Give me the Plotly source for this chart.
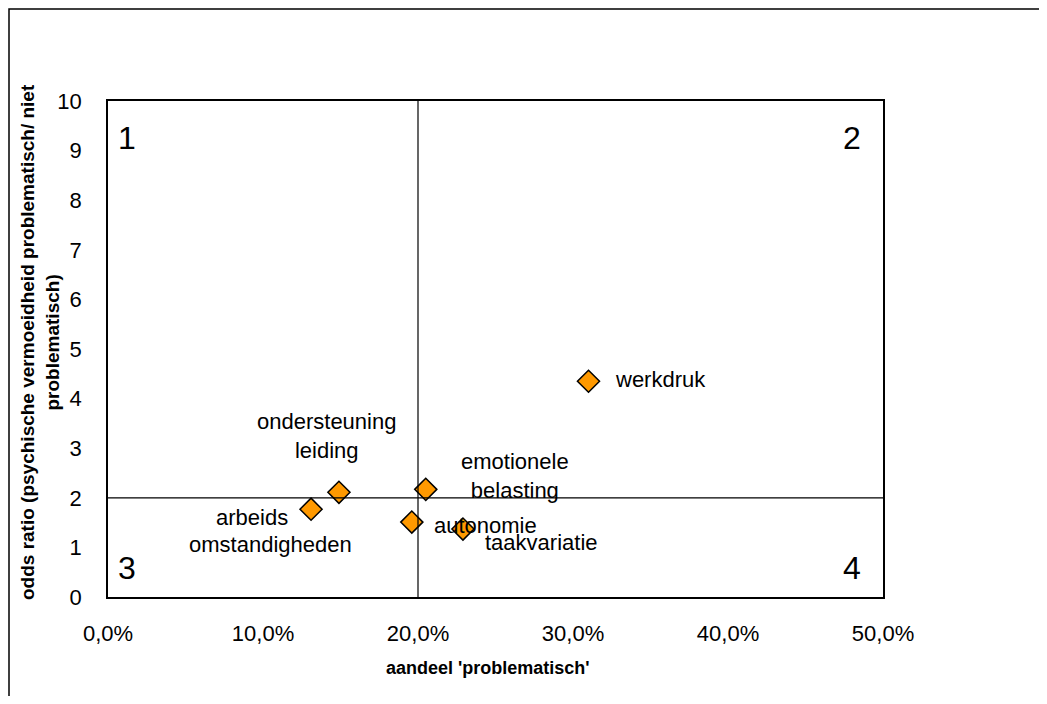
import plotly.graph_objects as go

# ---- data ----
names = ["werkdruk", "ondersteuning leiding", "arbeids omstandigheden",
         "emotionele belasting", "autonomie", "taakvariatie"]
share_problematic = [0.310, 0.149, 0.131, 0.205, 0.196, 0.229]
odds_ratio = [4.35, 2.11, 1.77, 2.17, 1.51, 1.37]
x_ticks = [0.0, 0.1, 0.2, 0.3, 0.4, 0.5]
y_ticks = list(range(0, 11))
x_split = 0.20
y_split = 2.0
quadrants = ["1", "2", "3", "4"]

# page body has an 8px margin, so work in page pixels and shift
OFF = 8
W, H = 1047 - 2 * OFF, 704 - 2 * OFF
L, T = 108 - OFF, 101 - OFF
R = W - (883 - OFF)
B = H - (597 - OFF)
PW, PH = W - L - R, H - T - B

def px(xp):
    return (xp - OFF - L) / PW

def py(yp):
    return (H - B - (yp - OFF)) / PH

FONT = "Liberation Sans, Arial, sans-serif"
fig = go.Figure()

fig.add_trace(go.Scatter(
    x=share_problematic, y=odds_ratio, mode="markers",
    marker=dict(symbol="diamond", size=17, color="#FF9900",
                line=dict(color="black", width=1.5)),
    hoverinfo="text", hovertext=names, showlegend=False, cliponaxis=False))

# quadrant split lines
fig.add_shape(type="line", xref="x", yref="y", x0=x_split, x1=x_split,
              y0=0, y1=10, line=dict(color="black", width=1.2))
fig.add_shape(type="line", xref="x", yref="y", x0=0, x1=0.5,
              y0=y_split, y1=y_split, line=dict(color="black", width=1.2))

# outer chart-area border (its left/top edges sit at the very edge of the figure)
fig.add_shape(type="rect", xref="paper", yref="paper",
              x0=px(OFF + 1), x1=px(1200), y0=py(800), y1=py(OFF + 1),
              line=dict(color="black", width=1.5), layer="below")

# point labels (offsets in pixels from each point)
label_text = {
    "werkdruk": ("werkdruk", 24, 2, "left"),
    "ondersteuning leiding": ("ondersteuning<br>leiding", -12, 56, "center"),
    "emotionele belasting": ("emotionele<br>belasting", 89, 13, "center"),
    "autonomie": ("autonomie", 20, -3, "left"),
    "taakvariatie": ("taakvariatie", 79, -13, "center"),
}
LBL = 22
for n, xv, yv in zip(names, share_problematic, odds_ratio):
    if n == "arbeids omstandigheden":
        fig.add_annotation(x=xv, y=yv, text="arbeids", showarrow=False,
                           xshift=-59, yshift=-8, xanchor="center",
                           font=dict(family=FONT, size=LBL, color="black"))
        fig.add_annotation(x=xv, y=yv, text="omstandigheden", showarrow=False,
                           xshift=-41, yshift=-35, xanchor="center",
                           font=dict(family=FONT, size=LBL, color="black"))
        continue
    t, dx, dy, anc = label_text[n]
    fig.add_annotation(x=xv, y=yv, text=t, showarrow=False,
                       xshift=dx, yshift=dy, xanchor=anc, align="center",
                       font=dict(family=FONT, size=LBL, color="black"))

# quadrant numbers
qpos = [(127, 138), (852, 138), (127, 568), (852, 568)]
for q, (qx, qy) in zip(quadrants, qpos):
    fig.add_annotation(xref="paper", yref="paper", x=px(qx), y=py(qy),
                       text=q, showarrow=False, xanchor="center", yanchor="middle",
                       font=dict(family=FONT, size=32, color="black"))

# axis titles
fig.add_annotation(xref="paper", yref="paper", x=px(488), y=py(668),
                   text="<b>aandeel 'problematisch'</b>", showarrow=False,
                   xanchor="center", yanchor="middle",
                   font=dict(family=FONT, size=18, color="black"))
fig.add_annotation(xref="paper", yref="paper", x=px(40), y=py(342),
                   text="<b>odds ratio (psychische vermoeidheid problematisch/ niet<br>problematisch)</b>",
                   showarrow=False, textangle=-90, xanchor="center", yanchor="middle",
                   font=dict(family=FONT, size=19, color="black"))

fig.update_layout(
    width=W, height=H,
    margin=dict(l=L, r=R, t=T, b=B),
    paper_bgcolor="white", plot_bgcolor="white",
    separators=",.",
    font=dict(family=FONT, size=22, color="black"),
    showlegend=False,
    xaxis=dict(range=[0, 0.5], tickvals=x_ticks, tickformat=".1%",
               showgrid=False, zeroline=False, showline=True, mirror=True,
               linecolor="black", linewidth=1.5, ticks="", ticklabelstandoff=16,
               fixedrange=True),
    yaxis=dict(range=[0, 10], tickvals=y_ticks, showgrid=False, zeroline=False,
               showline=True, mirror=True, linecolor="black", linewidth=1.5,
               ticks="", ticklabelstandoff=20, fixedrange=True),
)

fig.write_html("out.html")
